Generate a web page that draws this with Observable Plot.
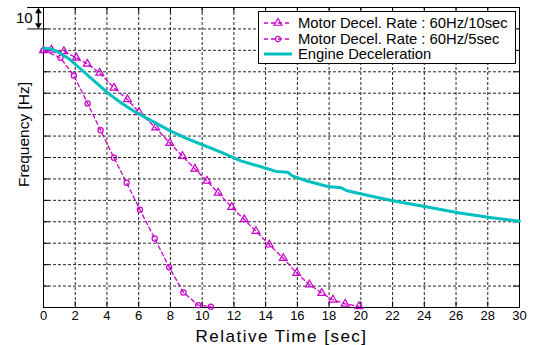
<!DOCTYPE html>
<html>
<head>
<meta charset="utf-8">
<script src="https://cdn.jsdelivr.net/npm/d3@7"></script>
<script src="https://cdn.jsdelivr.net/npm/@observablehq/plot@0.6"></script>
<style>
  html, body { margin: 0; padding: 0; background: #fff; }
  #wrap { position: relative; width: 535px; height: 345px; font-family: Arial, "Liberation Sans", sans-serif; }
  #legend { position: absolute; left: 258px; top: 11px; width: 256px; height: 51px; border: 1px solid #000; background: #fff; font-size: 14.8px; color: #000; }
  .row { position: absolute; left: 0; height: 16px; display: flex; align-items: center; white-space: nowrap; }
  .row svg { margin-left: 4px; margin-right: 5px; }
</style>
</head>
<body>
<div id="wrap"><div id="chart"></div>
<div id="legend"></div></div>
<script>
const magenta = "#cc00cc";
const cyan = "#00bfbf";

const xTicks = [0, 2, 4, 6, 8, 10, 12, 14, 16, 18, 20, 22, 24, 26, 28, 30];
const yGrid = [0, 10, 20, 30, 40, 50, 60, 70, 80, 90, 100, 110, 120, 130, 140];

const seriesNames = ["Motor Decel. Rate : 60Hz/10sec", "Motor Decel. Rate : 60Hz/5sec", "Engine Deceleration"];
const xTitle = "Relative Time [sec]";
const yTitle = "Frequency [Hz]";

const motor10Time = [0, 0.5, 1.28, 2.07, 2.76, 3.54, 4.44, 5.29, 6.02, 7.07, 7.96, 8.76, 9.54, 10.30, 11.01, 11.86, 12.65, 13.39, 14.23, 15.11, 15.96, 16.76, 17.54, 18.24, 19.01, 19.88];
const motor10Freq = [120, 120.2, 119.5, 116.5, 113.7, 109.5, 102.5, 97.1, 91.1, 83.9, 76.7, 70.6, 64.7, 59.1, 53.5, 46.8, 41.1, 35.6, 29.3, 23.0, 16.0, 10.7, 6.7, 3.6, 1.7, 0.5];

const motor5Time = [0, 1.07, 1.91, 2.78, 3.60, 4.44, 5.24, 6.08, 7.01, 7.92, 8.82, 9.75, 10.55];
const motor5Freq = [120, 116.5, 108.3, 95.2, 82.7, 69.9, 58.2, 45.6, 32.2, 18.8, 7.0, 1.1, 0.4];

const engineTime = [0, 0.4, 0.76, 1.6, 2.44, 3.28, 4.12, 4.97, 5.81, 6.97, 8.02, 9.08, 10.13, 11.18, 12.44, 13.92, 14.66, 15.39, 15.71, 16.66, 17.92, 18.76, 19.08, 19.82, 21.92, 24.02, 26.13, 28.24, 30];
const engineFreq = [121, 120.8, 119.9, 116.1, 110.6, 105.2, 99.7, 95.1, 91.1, 86.5, 82.3, 78.7, 75.6, 72.5, 68.4, 65.2, 63.5, 63.1, 61.3, 58.9, 56.5, 55.9, 54.6, 53.3, 49.9, 47.1, 44.2, 41.9, 40.3];

// scale annotation: one grid step = 10 Hz at top-left
const annotStep = [130, 140];
const annotLabel = ["10"];

const toRows = (ts, fs) => ts.map((t, i) => ({t, f: fs[i]}));
const motor10 = toRows(motor10Time, motor10Freq);
const motor5 = toRows(motor5Time, motor5Freq);
const engine = toRows(engineTime, engineFreq);

const chart = Plot.plot({
  width: 535,
  height: 345,
  marginLeft: 43,
  marginRight: 16,
  marginTop: 7,
  marginBottom: 38,
  style: {fontFamily: "Arial, 'Liberation Sans', sans-serif", fontSize: "13px", color: "#000", background: "#fff", overflow: "visible"},
  x: {domain: [0, 30], label: null},
  y: {domain: [0, 140], label: null},
  marks: [
    Plot.gridX(xTicks, {stroke: "#000", strokeOpacity: 0.85, strokeDasharray: "3,2"}),
    Plot.gridY(yGrid, {stroke: "#000", strokeOpacity: 0.85, strokeDasharray: "3,2"}),
    // inward ticks on all four sides
    Plot.ruleY(yGrid, {x1: 0, x2: 0.36, stroke: "#000"}),
    Plot.ruleY(yGrid, {x1: 29.64, x2: 30, stroke: "#000"}),
    Plot.ruleX(xTicks, {y1: 140, y2: 137.4, stroke: "#000"}),
    Plot.ruleX(xTicks, {y1: 0, y2: 2.6, stroke: "#000"}),
    Plot.frame({stroke: "#000", strokeWidth: 1}),
    Plot.axisX(xTicks, {tickSize: 0, tickPadding: 3, fontSize: 13, label: null}),
    Plot.axisY([], {tickSize: 0, label: null}),
    // series
    Plot.line(motor10, {x: "t", y: "f", stroke: magenta, strokeWidth: 1.3, strokeDasharray: "4,3"}),
    Plot.dot(motor10, {x: "t", y: "f", symbol: "triangle", r: 2.9, stroke: magenta, strokeWidth: 1.2, fill: "none"}),
    Plot.line(motor5, {x: "t", y: "f", stroke: magenta, strokeWidth: 1.3, strokeDasharray: "4,3"}),
    Plot.dot(motor5, {x: "t", y: "f", symbol: "circle", r: 2.6, stroke: magenta, strokeWidth: 1.2, fill: "none"}),
    Plot.line(engine, {x: "t", y: "f", stroke: cyan, strokeWidth: 3}),
    // axis titles
    Plot.text([xTitle], {frameAnchor: "bottom", dy: 29, fontSize: 17, lineAnchor: "middle", fill: "#000"}),
    Plot.text([yTitle], {frameAnchor: "left", textAnchor: "middle", lineAnchor: "middle", rotate: -90, dx: -19, dy: -23, fontSize: 15.5, fill: "#000"}),
    // top-left "10" scale annotation
    Plot.ruleY(annotStep, {x1: -1, x2: 0, stroke: "#000"}),
    Plot.link([annotStep], {x1: -0.32, x2: -0.32, y1: d => d[0] + 1.5, y2: d => d[1] - 1.5, stroke: "#000", strokeWidth: 1.5}),
    Plot.dot([annotStep[1] - 1.8], {x: -0.32, y: d => d, symbol: "triangle", r: 2.5, fill: "#000", stroke: "none"}),
    Plot.dot([annotStep[0] + 1.8], {x: -0.32, y: d => d, symbol: "triangle", rotate: 180, r: 2.5, fill: "#000", stroke: "none"}),
    Plot.text(annotLabel, {x: -0.68, y: 135, textAnchor: "end", fontSize: 15, fill: "#000"})
  ]
});
d3.select(chart).selectAll("text").filter(function () { return this.textContent === xTitle; })
  .style("letter-spacing", "1.5px");
document.getElementById("chart").appendChild(chart);

// legend
const legend = d3.select("#legend");
const rowsTop = [3, 18.5, 34];
seriesNames.forEach((name, i) => {
  const row = legend.append("div").attr("class", "row").style("top", rowsTop[i] + "px");
  const s = row.append("svg").attr("width", 30).attr("height", 16);
  if (i < 2) {
    s.append("line").attr("x1", 1).attr("x2", 29).attr("y1", 8).attr("y2", 8)
      .attr("stroke", magenta).attr("stroke-width", 1.3).attr("stroke-dasharray", "4,3");
    const sym = i === 0 ? d3.symbolTriangle : d3.symbolCircle;
    const size = i === 0 ? Math.PI * 2.9 * 2.9 : Math.PI * 2.6 * 2.6;
    s.append("path").attr("d", d3.symbol(sym, size)()).attr("transform", "translate(15,8)")
      .attr("fill", "none").attr("stroke", magenta).attr("stroke-width", 1.2);
  } else {
    s.append("line").attr("x1", 1).attr("x2", 29).attr("y1", 8).attr("y2", 8)
      .attr("stroke", cyan).attr("stroke-width", 3);
  }
  row.append("span").text(name);
});
</script>
</body>
</html>
